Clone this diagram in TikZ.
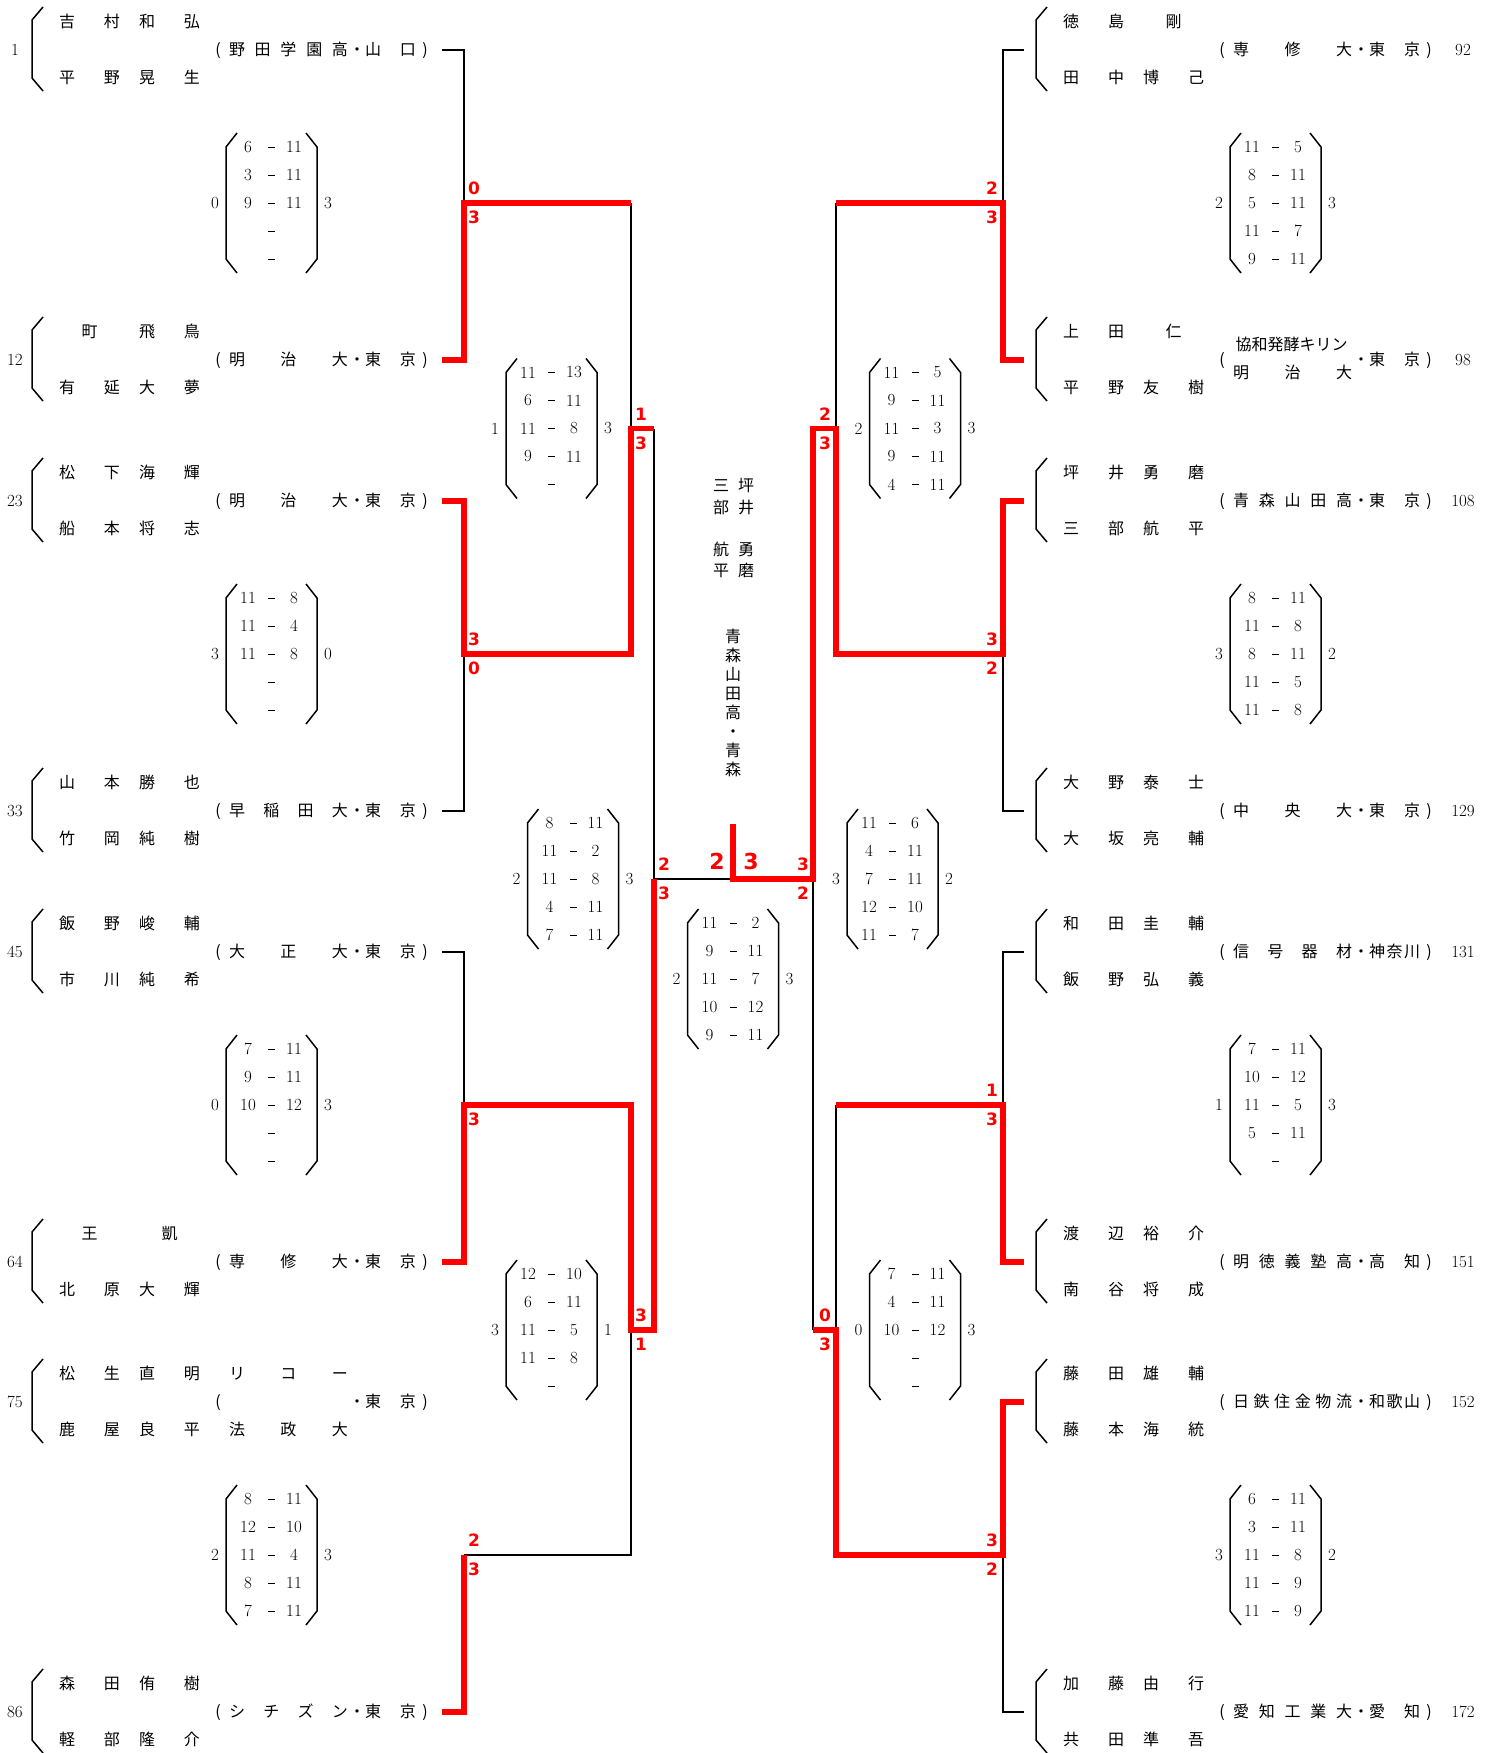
\documentclass[tikz,border=0pt]{standalone}
\usepackage{fontspec}
\usepackage{tikz}
\usetikzlibrary{calc}
\newfontfamily\jp{Noto Sans CJK JP}
\newfontfamily\dvs{DejaVu Sans}
\definecolor{winred}{RGB}{255,0,0}
% gap between the two kanji of a family or given name
\newcommand{\gp}{\hspace{29pt}}
% spread the characters of a word over a fixed box
\def\spreadA#1{#1\spreadB}
\def\spreadB#1{\ifx\relax#1\else\hfill#1\expandafter\spreadB\fi}
\newcommand{\spread}[1]{\spreadA#1\relax}
\newcommand{\inst}[1]{\makebox[119pt]{\spread{#1}}}
\newcommand{\pref}[1]{\makebox[51pt]{\spread{#1}}}
% pair of players: id, x shift, y, family/given of both players
\newcommand{\players}[7]{%
  \draw[brk] (#2+43,#3-43) -- (#2+32,#3-30) -- (#2+32,#3+28) -- (#2+43,#3+41);
  \node[jp] (p#1a) at (#2+89.5,#3-28) {#4};
  \node[jp] (p#1b) at (#2+169.5,#3-28) {#5};
  \node[jp] (p#1c) at (#2+89.5,#3+28) {#6};
  \node[jp] (p#1d) at (#2+169.5,#3+28) {#7};}
% club: id, x shift, y, institution, prefecture
\newcommand{\club}[5]{%
  \node[jp] (k#1o) at (#2+218,#3) {(};
  \if\relax\detokenize{#4}\relax\else\node[jp] (k#1i) at (#2+288.5,#3) {\inst{#4}};\fi
  \node[jp] (k#1m) at (#2+357,#3) {・};
  \node[jp] (k#1p) at (#2+390.5,#3) {\pref{#5}};
  \node[jp] (k#1c) at (#2+425,#3) {)};}
% game scores: name, cx, cy, left total, right total, games
\newcommand{\score}[6]{%
  \draw[brk] (#2-34.5,#3-70) -- (#2-45.5,#3-56) -- (#2-45.5,#3+56) -- (#2-34.5,#3+70);
  \draw[brk] (#2+34.5,#3-70) -- (#2+45.5,#3-56) -- (#2+45.5,#3+56) -- (#2+34.5,#3+70);
  \node[pts] (#1l) at (#2-56.5,#3) {#4};
  \node[pts] (#1r) at (#2+56.5,#3) {#5};
  \foreach \ls/\rs [count=\row] in {#6} {
    \node[pts] (#1a\row) at (#2-23.5,#3+28*\row-84) {\ls};
    \node[pts] (#1m\row) at (#2,#3+28*\row-84) {\rule{7pt}{0.8pt}};
    \node[pts] (#1b\row) at (#2+22.5,#3+28*\row-84) {\rs};}}
% red match result: name, junction, dx, upper, lower
\newcommand{\res}[5]{%
  \node[lab,anchor=south] (#1u) at ($(#2)+(#3,-8)$) {#4};
  \node[lab,anchor=north] (#1d) at ($(#2)+(#3,8)$) {#5};}

\begin{document}
\begin{tikzpicture}[x=1pt,y=-1pt,
  wire/.style={line width=1.7pt},
  win/.style={line width=5.5pt,draw=winred},
  brk/.style={line width=1.5pt},
  jp/.style={font=\jp\fontsize{16}{16}\selectfont,inner sep=0pt,
             text height=13.6pt,text depth=2.4pt},
  pts/.style={font=\fontsize{17}{17}\selectfont,inner sep=0pt},
  lab/.style={font=\dvs\bfseries\fontsize{17}{17}\selectfont,text=winred,inner sep=0pt},
  big/.style={font=\dvs\bfseries\fontsize{22}{22}\selectfont,text=winred,inner sep=0pt}]
  \useasboundingbox (0,0) rectangle (1497,1753);
  % ---- seeds and line ends
  \foreach \s/\y in {1/50,12/360,23/501,33/811,45/952,64/1262,75/1402,86/1712} {
    \node[pts] (n\s) at (15,\y) {\s};
    \coordinate (e\s) at (442,\y);}
  \foreach \s/\y in {92/50,98/360,108/501,129/811,131/952,151/1262,152/1402,172/1712} {
    \node[pts] (n\s) at (1463,\y) {\s};
    \coordinate (e\s) at (1024,\y);}
  % ---- left half
  \players{1}{0}{50}{吉\gp 村}{和\gp 弘}{平\gp 野}{晃\gp 生}
  \club{1}{0}{50}{野田学園高}{山口}
  \players{12}{0}{360}{町}{飛\gp 鳥}{有\gp 延}{大\gp 夢}
  \club{12}{0}{360}{明治大}{東京}
  \players{23}{0}{501}{松\gp 下}{海\gp 輝}{船\gp 本}{将\gp 志}
  \club{23}{0}{501}{明治大}{東京}
  \players{33}{0}{811}{山\gp 本}{勝\gp 也}{竹\gp 岡}{純\gp 樹}
  \club{33}{0}{811}{早稲田大}{東京}
  \players{45}{0}{952}{飯\gp 野}{峻\gp 輔}{市\gp 川}{純\gp 希}
  \club{45}{0}{952}{大正大}{東京}
  \players{64}{0}{1262}{王}{凱}{北\gp 原}{大\gp 輝}
  \club{64}{0}{1262}{専修大}{東京}
  \players{75}{0}{1402}{松\gp 生}{直\gp 明}{鹿\gp 屋}{良\gp 平}
  \club{75}{0}{1402}{}{東京}
  \node[jp] (k75x) at (288.5,1374) {\inst{リコー}};
  \node[jp] (k75y) at (288.5,1430) {\inst{法政大}};
  \players{86}{0}{1712}{森\gp 田}{侑\gp 樹}{軽\gp 部}{隆\gp 介}
  \club{86}{0}{1712}{シチズン}{東京}
  % ---- right half
  \players{92}{1004}{50}{徳\gp 島}{剛}{田\gp 中}{博\gp 己}
  \club{92}{1004}{50}{専修大}{東京}
  \players{98}{1004}{360}{上\gp 田}{仁}{平\gp 野}{友\gp 樹}
  \club{98}{1004}{360}{}{東京}
  \node[jp] (k98x) at (1291.5,345) {協和発酵キリン};
  \node[jp] (k98y) at (1292.5,373) {\inst{明治大}};
  \players{108}{1004}{501}{坪\gp 井}{勇\gp 磨}{三\gp 部}{航\gp 平}
  \club{108}{1004}{501}{青森山田高}{東京}
  \players{129}{1004}{811}{大\gp 野}{泰\gp 士}{大\gp 坂}{亮\gp 輔}
  \club{129}{1004}{811}{中央大}{東京}
  \players{131}{1004}{952}{和\gp 田}{圭\gp 輔}{飯\gp 野}{弘\gp 義}
  \club{131}{1004}{952}{信号器材}{神奈川}
  \players{151}{1004}{1262}{渡\gp 辺}{裕\gp 介}{南\gp 谷}{将\gp 成}
  \club{151}{1004}{1262}{明徳義塾高}{高知}
  \players{152}{1004}{1402}{藤\gp 田}{雄\gp 輔}{藤\gp 本}{海\gp 統}
  \club{152}{1004}{1402}{日鉄住金物流}{和歌山}
  \players{172}{1004}{1712}{加\gp 藤}{由\gp 行}{共\gp 田}{準\gp 吾}
  \club{172}{1004}{1712}{愛知工業大}{愛知}
  % ---- junctions
  \coordinate (m1) at (464,203);  \coordinate (m2) at (464,654);
  \coordinate (m3) at (464,1105); \coordinate (m4) at (464,1555);
  \coordinate (m5) at (1003,203); \coordinate (m6) at (1003,654);
  \coordinate (m7) at (1003,1105);\coordinate (m8) at (1003,1555);
  \coordinate (q1) at (631,428.5);\coordinate (q2) at (631,1330);
  \coordinate (q3) at (836,428.5);\coordinate (q4) at (836,1330);
  \coordinate (s1) at (654,879);  \coordinate (s2) at (813,879);
  \coordinate (f) at (733,879);   \coordinate (ft) at (733,824);
  % ---- losing lines
  \draw[wire] (e1) -| (m1);  \draw[wire] (e33) -| (m2);
  \draw[wire] (e45) -| (m3); \draw[wire] (m4) -| (q2);
  \draw[wire] (m1 -| q1) -- (q1);
  \draw[wire] (q1 -| s1) -- (s1) -- (f);
  \draw[wire] (e92) -| (m5);  \draw[wire] (e129) -| (m6);
  \draw[wire] (e131) -| (m7); \draw[wire] (e172) -| (m8);
  \draw[wire] (m5 -| q3) -- (q3);
  \draw[wire] (m7 -| q4) -- (q4);
  \draw[wire] (q4 -| s2) -- (s2);
  % ---- winning lines
  \draw[win] (e12) -| (m1) -- (m1 -| q1);
  \draw[win] (e23) -| (m2) -| (q1) -- (q1 -| s1);
  \draw[win] (e64) -| (m3) -| (q2) -- (q2 -| s1) -- (s1);
  \draw[win] (e86) -| (m4);
  \draw[win] (e98) -| (m5) -- (m5 -| q3);
  \draw[win] (e108) -| (m6) -| (q3) -- (q3 -| s2) -- (s2) -- (f) -- (ft);
  \draw[win] (e151) -| (m7) -- (m7 -| q4);
  \draw[win] (e152) -| (m8) -| (q4) -- (q4 -| s2);
  % ---- match results
  \res{r1}{m1}{10}{0}{3}  \res{r2}{m2}{10}{3}{0}
  \node[lab,anchor=north] (r3d) at ($(m3)+(10,8)$) {3};
  \res{r4}{m4}{10}{2}{3}
  \res{r5}{m5}{-11}{2}{3} \res{r6}{m6}{-11}{3}{2}
  \res{r7}{m7}{-11}{1}{3} \res{r8}{m8}{-11}{3}{2}
  \res{r9}{q1}{10}{1}{3}  \res{r10}{q2}{10}{3}{1}
  \res{r11}{q3}{-11}{2}{3} \res{r12}{q4}{-11}{0}{3}
  \res{r13}{s1}{10}{2}{3} \res{r14}{s2}{-10}{3}{2}
  \node[big] (fl) at (717,861) {2};
  \node[big] (fr) at (751,861) {3};
  % ---- game scores
  \score{b1}{271.5}{203}{0}{3}{6/11,3/11,9/11,/,/}
  \score{b2}{271.5}{654}{3}{0}{11/8,11/4,11/8,/,/}
  \score{b3}{271.5}{1105}{0}{3}{7/11,9/11,10/12,/,/}
  \score{b4}{271.5}{1555}{2}{3}{8/11,12/10,11/4,8/11,7/11}
  \score{b5}{551.5}{428.5}{1}{3}{11/13,6/11,11/8,9/11,/}
  \score{b6}{551.5}{1330}{3}{1}{12/10,6/11,11/5,11/8,/}
  \score{b7}{573}{879}{2}{3}{8/11,11/2,11/8,4/11,7/11}
  \score{b8}{733}{979}{2}{3}{11/2,9/11,11/7,10/12,9/11}
  \score{b9}{892.5}{879}{3}{2}{11/6,4/11,7/11,12/10,11/7}
  \score{b10}{915}{428.5}{2}{3}{11/5,9/11,11/3,9/11,4/11}
  \score{b11}{915}{1330}{0}{3}{7/11,4/11,10/12,/,/}
  \score{b12}{1275.5}{203}{2}{3}{11/5,8/11,5/11,11/7,9/11}
  \score{b13}{1275.5}{654}{3}{2}{8/11,11/8,8/11,11/5,11/8}
  \score{b14}{1275.5}{1105}{1}{3}{7/11,10/12,11/5,5/11,/}
  \score{b15}{1275.5}{1555}{3}{2}{6/11,3/11,11/8,11/9,11/9}
  % ---- champions
  \foreach \c/\y [count=\i] in {三/486,部/508,航/550,平/571}
    \node[jp] (ca\i) at (721,\y) {\c};
  \foreach \c/\y [count=\i] in {坪/486,井/508,勇/550,磨/571}
    \node[jp] (cb\i) at (746,\y) {\c};
  \foreach \c [count=\i] in {青,森,山,田,高,・,青,森}
    \node[jp] (cc\i) at (733,618+19*\i) {\c};
\end{tikzpicture}
\end{document}
